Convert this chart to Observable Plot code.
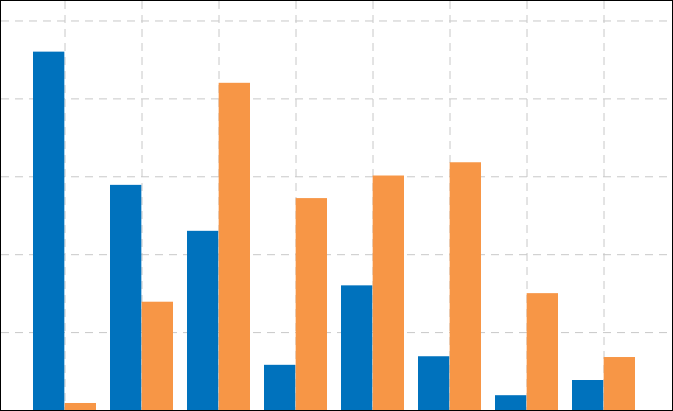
<!DOCTYPE html>
<html>
<head>
<meta charset="utf-8">
<script src="https://cdn.jsdelivr.net/npm/d3@7"></script>
<script src="https://cdn.jsdelivr.net/npm/@observablehq/plot@0.6"></script>
<style>
  html, body { margin: 0; padding: 0; background: #fff; }
  #chart { display: inline-block; border: 1px solid #000; line-height: 0; }
  #chart svg { display: block; }
</style>
</head>
<body>
<div id="chart"></div>
<script>
const groups = ["1", "2", "3", "4", "5", "6", "7", "8"];
const seriesA = [4.60, 2.89, 2.30, 0.58, 1.60, 0.69, 0.19, 0.385];
const seriesB = [0.09, 1.39, 4.20, 2.72, 3.01, 3.18, 1.50, 0.68];
const yTicks = [0, 1, 2, 3, 4, 5];

const data = groups.map((g, i) => ({group: g, a: seriesA[i], b: seriesB[i]}));

const W = 671, H = 409;
const xRange = [31.4, 635.3];
const padInner = 0.18;
const step = (xRange[1] - xRange[0]) / (groups.length - padInner);
const half = step * (1 - padInner) / 2;

const gridStyle = {stroke: "#c8c8c8", strokeOpacity: 1, strokeWidth: 1, strokeDasharray: "8,6"};

const plot = Plot.plot({
  width: W,
  height: H,
  marginTop: 0, marginBottom: 0, marginLeft: 0, marginRight: 0,
  x: {domain: groups, range: xRange, paddingInner: padInner, paddingOuter: 0, axis: null},
  y: {domain: [0, 5.25], axis: null},
  marks: [
    Plot.ruleY(yTicks, {y: d => d, ...gridStyle}),
    Plot.ruleX(groups, {x: d => d, ...gridStyle}),
    Plot.barY(data, {x: "group", y: "a", fill: "#0072BD", insetRight: half}),
    Plot.barY(data, {x: "group", y: "b", fill: "#F79646", insetLeft: half})
  ]
});
document.getElementById("chart").appendChild(plot);
</script>
</body>
</html>
